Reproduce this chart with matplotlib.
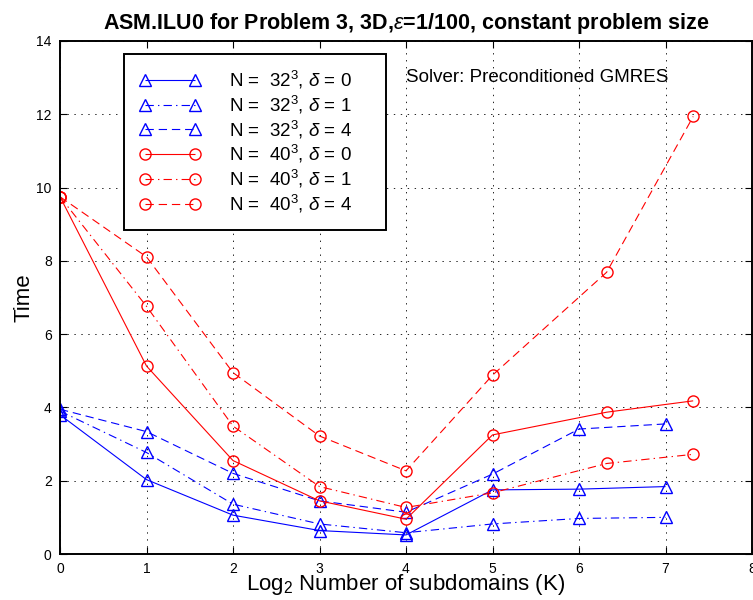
import matplotlib
matplotlib.use("Agg")
import matplotlib.pyplot as plt

plt.rcParams["font.family"] = ["Liberation Sans", "DejaVu Sans"]
plt.rcParams["mathtext.fontset"] = "custom"
plt.rcParams["mathtext.rm"] = "Liberation Sans"
plt.rcParams["mathtext.it"] = "Liberation Sans:italic"
plt.rcParams["lines.scale_dashes"] = False

# ---- data ----
x32 = [0, 1, 2, 3, 4, 5, 6, 7]
x40 = [0, 1, 2, 3, 4, 5, 6.32, 7.32]

t32_d0 = [3.80, 2.03, 1.06, 0.64, 0.52, 1.75, 1.77, 1.84]
t32_d1 = [3.90, 2.77, 1.36, 0.82, 0.58, 0.82, 0.97, 1.00]
t32_d4 = [3.95, 3.34, 2.20, 1.45, 1.14, 2.18, 3.41, 3.55]

t40_d0 = [9.75, 5.13, 2.55, 1.45, 0.95, 3.25, 3.87, 4.18]
t40_d1 = [9.75, 6.76, 3.49, 1.84, 1.27, 1.67, 2.47, 2.72]
t40_d4 = [9.75, 8.11, 4.95, 3.22, 2.27, 4.88, 7.69, 11.94]

labels = [r"N =  32$^3$, $\delta$ = 0", r"N =  32$^3$, $\delta$ = 1", r"N =  32$^3$, $\delta$ = 4",
          r"N =  40$^3$, $\delta$ = 0", r"N =  40$^3$, $\delta$ = 1", r"N =  40$^3$, $\delta$ = 4"]

fig = plt.figure(figsize=(7.53, 6.0), dpi=100)
ax = fig.add_axes([60/753, 46/600, 692/753, 513/600])

blue = "#0000ff"
red = "#ff0000"
solid = (0, ())
dashdot = (0, (6, 3, 1, 3))
dashed = (0, (6, 3.5))
mk = dict(markersize=8, markerfacecolor="none", linewidth=0.8)

ax.plot(x32, t32_d0, linestyle=solid, marker="^", color=blue, label=labels[0], **mk)
ax.plot(x32, t32_d1, linestyle=dashdot, marker="^", color=blue, label=labels[1], **mk)
ax.plot(x32, t32_d4, linestyle=dashed, marker="^", color=blue, label=labels[2], **mk)
ax.plot(x40, t40_d0, linestyle=solid, marker="o", color=red, label=labels[3], **mk)
ax.plot(x40, t40_d1, linestyle=dashdot, marker="o", color=red, label=labels[4], **mk)
ax.plot(x40, t40_d4, linestyle=dashed, marker="o", color=red, label=labels[5], **mk)

ax.set_xlim(0, 8)
ax.set_ylim(0, 14)
ax.set_xticks(range(0, 9))
ax.set_yticks(range(0, 15, 2))
ax.grid(True, linestyle=(0, (1, 4)), color="black", linewidth=0.6)
ax.tick_params(direction="in", top=True, right=True, length=5, labelsize=10, pad=6)
for s in ax.spines.values():
    s.set_linewidth(1.4)

ax.set_title(r"ASM.ILU0 for Problem 3, 3D,$\varepsilon$=1/100, constant problem size",
             fontsize=15.5, fontweight="bold", pad=9)
ax.set_xlabel(r"Log$_2$ Number of subdomains (K)", fontsize=16, labelpad=-3)
ax.set_ylabel("Time", fontsize=16, labelpad=1)

ax.text(4.0, 13.0, "Solver: Preconditioned GMRES", fontsize=13.5, va="center")

# legend box: x 124..386 px, y 54..227 px
leg = ax.legend(loc="upper left", bbox_to_anchor=(124/753, 373/600, 262/753, 173/600),
                bbox_transform=fig.transFigure, mode="expand",
                numpoints=2, fontsize=13.5, handlelength=3.3, handletextpad=1.5,
                labelspacing=0.14, borderpad=0.8, fancybox=False, framealpha=1,
                edgecolor="black", borderaxespad=0)
leg.get_frame().set_linewidth(1.4)

fig.savefig("out.png", dpi=100)
